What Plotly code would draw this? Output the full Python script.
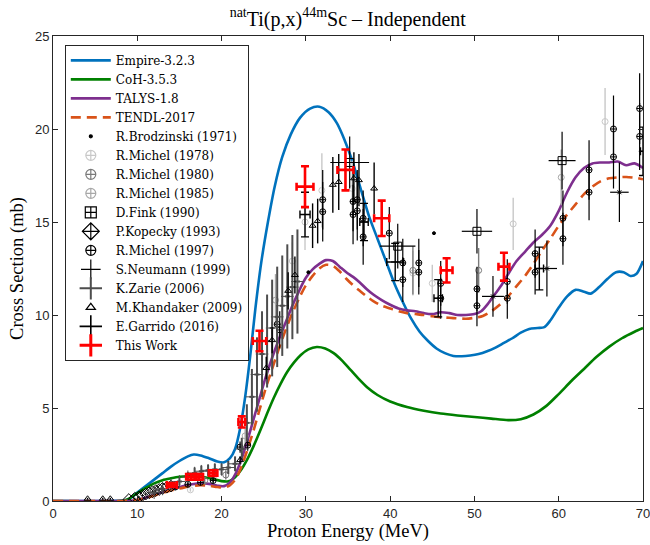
import plotly.graph_objects as go

# ---------------- model curves ----------------
empire_E = [0, 5, 8, 9, 10, 11, 12, 13, 14, 15, 16, 16.7, 17.5, 18.5, 19.5, 20.3, 21, 21.6, 22.2, 22.8, 23.4, 24, 24.7,
            25.5, 26.3, 27.2, 28.2, 29.3, 30.5, 31.6, 32.7, 33.7, 34.6, 35.5, 36.5, 37.5, 38.5, 39.5, 40.5, 41.5, 42.5,
            43.5, 44.5, 45.5, 46.5, 47.5, 48.5, 49.5, 50.5, 51.5, 52.5, 53.5, 54.5, 55.5, 56.5, 57.5, 58.3, 59, 60, 61,
            62, 63, 63.8, 64.8, 65.8, 66.8, 67.7, 68.5, 69.2, 70]
empire_xs = [0, 0, 0.02, 0.1, 0.45, 0.8, 1.15, 1.5, 1.85, 2.15, 2.4, 2.5, 2.45, 2.3, 2.12, 2.08, 2.3, 2.8, 3.9, 5.6, 7.8,
             10.3, 12.8, 15.0, 16.9, 18.5, 19.7, 20.6, 21.1, 21.2, 20.9, 20.3, 19.4, 18.3, 16.8, 15.3, 14.1, 12.9, 11.7,
             10.7, 9.8, 9.1, 8.6, 8.2, 7.95, 7.8, 7.78, 7.82, 7.9, 8.05, 8.25, 8.5, 8.75, 9.05, 9.25, 9.3, 9.35, 9.7,
             10.4, 11.0, 11.35, 11.25, 11.15, 11.5, 11.95, 12.3, 12.3, 12.1, 12.2, 12.9]

coh_E = [0, 8, 8.5, 9, 10, 11, 12, 13, 14, 15, 16, 17, 18, 19, 20, 20.7, 21.4, 22.2, 23, 23.8, 24.6, 25.4, 26.2, 27,
         27.8, 28.6, 29.4, 30.3, 31.3, 32.3, 33.3, 34.3, 35.3, 36.3, 37.3, 38.5, 40, 42, 44, 46, 48, 50, 52, 54, 55.5,
         57, 58.5, 60, 61.5, 63, 64.5, 66, 67.5, 69, 70]
coh_xs = [0, 0, 0.03, 0.12, 0.42, 0.7, 0.95, 1.12, 1.22, 1.3, 1.33, 1.32, 1.27, 1.18, 1.07, 1.05, 1.2, 1.6, 2.2, 2.95,
          3.8, 4.7, 5.55, 6.3, 6.95, 7.45, 7.85, 8.15, 8.28, 8.2, 7.95, 7.55, 7.05, 6.55, 6.1, 5.7, 5.35, 5.05, 4.85,
          4.7, 4.6, 4.52, 4.43, 4.35, 4.4, 4.65, 5.1, 5.75, 6.45, 7.1, 7.75, 8.3, 8.75, 9.1, 9.3]

talys_E = [0, 8, 9.5, 10.5, 11.5, 12.5, 13.5, 14.5, 15.5, 16.5, 17.5, 18.5, 19.5, 20.3, 21, 21.7, 22.4, 23.1, 23.8,
           24.5, 25.2, 26, 26.8, 27.6, 28.4, 29.2, 30, 30.8, 31.6, 32.4, 33.2, 34, 34.8, 35.6, 36.4, 37.2, 38, 39, 40,
           41, 42, 43, 44, 45, 46, 47, 48, 49, 50, 50.8, 51.6, 52.4, 53.2, 54, 55, 56, 57, 58, 59, 60, 61, 62, 63, 64,
           65, 66, 67, 68, 69, 70]
talys_xs = [0, 0, 0.02, 0.12, 0.25, 0.4, 0.55, 0.68, 0.8, 0.9, 0.95, 0.92, 0.82, 0.8, 1.0, 1.5, 2.3, 3.3, 4.4, 5.5, 6.6,
            7.7, 8.7, 9.6, 10.5, 11.3, 12.0, 12.45, 12.75, 12.95, 12.9, 12.6, 12.3, 12.05, 11.75, 11.4, 11.1, 10.8,
            10.55, 10.35, 10.25, 10.2, 10.1, 10.05, 10.15, 10.1, 10.0, 10.0, 10.05, 10.2, 10.6, 11.1, 11.6, 12.2, 12.9,
            13.4, 13.9, 14.3, 14.8, 15.6, 16.6, 17.4, 17.9, 18.15, 18.2, 18.2, 18.25, 18.05, 18.15, 17.9]

tendl_E = [0, 8, 9.5, 10.5, 11.5, 12.5, 13.5, 14.5, 15.5, 16.5, 17.5, 18.5, 19.5, 20.3, 21, 21.7, 22.4, 23.1, 23.8,
           24.5, 25.2, 26, 26.8, 27.6, 28.4, 29.2, 30, 30.8, 31.6, 32.4, 33.2, 34, 34.8, 35.6, 36.4, 37.2, 38, 39, 40,
           41, 42, 43, 44, 45, 46, 47, 48, 49, 50, 51, 52, 53, 54, 55, 56, 57, 58, 59, 60, 61, 62, 63, 64, 65, 66, 67,
           68, 69, 70]
tendl_xs = [0, 0, 0.02, 0.1, 0.22, 0.36, 0.5, 0.62, 0.72, 0.8, 0.85, 0.82, 0.75, 0.72, 0.85, 1.2, 1.9, 2.8, 3.8, 4.9,
            6.0, 7.1, 8.2, 9.2, 10.1, 10.9, 11.6, 12.1, 12.5, 12.7, 12.65, 12.35, 11.95, 11.6, 11.3, 11.0, 10.75, 10.5,
            10.35, 10.2, 10.1, 10.05, 10.0, 9.93, 9.88, 9.85, 9.82, 9.8, 9.85, 9.95, 10.2, 10.55, 11.0, 11.55, 12.1,
            12.75, 13.45, 14.1, 14.8, 15.4, 15.95, 16.5, 16.9, 17.2, 17.35, 17.4, 17.42, 17.38, 17.3]

# ---------------- experimental data ----------------
brod_E = [30.3, 45.2]
brod_xs = [12.3, 14.4]

mic78_E = [16.3, 28.4, 29.9, 31.9, 35.5, 42.7, 45.0, 54.6, 65.5]
mic78_xs = [0.6, 12.9, 15.0, 16.7, 16.8, 12.25, 11.7, 14.9, 20.4]
mic78_err = [0.1, 1.0, 1.5, 2.0, 1.5, 1.2, 1.0, 1.4, 1.8]

mic80_E = [18.0, 20.5, 42.7, 50.5]
mic80_xs = [1.1, 1.4, 12.4, 12.4]
mic80_err = [0.2, 0.25, 1.3, 1.2]

mic85_E = [22.8, 26.4, 60.3]
mic85_xs = [3.5, 10.8, 17.4]
mic85_err = [0.4, 1.4, 1.5]

fink_E = [35.2, 40.9, 50.3, 60.4]
fink_xs = [18.2, 13.7, 14.5, 18.3]
fink_dE = [2.3, 2.1, 1.8, 1.6]
fink_err = [1.4, 1.2, 1.2, 1.55]

kop_E = [9.0, 9.7, 10.2, 10.6, 11.0, 11.4, 11.8, 12.2, 12.6, 13.0, 13.5, 14.0]
kop_xs = [0.08, 0.15, 0.22, 0.3, 0.37, 0.44, 0.5, 0.56, 0.62, 0.68, 0.74, 0.8]
kop_err = [0.03, 0.03, 0.04, 0.04, 0.05, 0.05, 0.06, 0.06, 0.07, 0.07, 0.08, 0.08]

mic97_E = [14.5, 16.0, 17.5, 19.0, 22.2, 23.1, 26.6, 26.9, 32.0, 32.0, 35.6, 35.6, 36.1, 36.1, 36.8, 36.8, 39.9, 41.5,
           41.5, 43.4, 43.4, 46.0, 46.0, 50.3, 50.3, 53.9, 53.9, 57.2, 57.2, 60.5, 60.5, 63.6, 63.6, 66.5, 66.5, 69.6,
           69.6]
mic97_xs = [0.75, 0.9, 1.0, 1.1, 2.9, 3.0, 9.5, 9.2, 16.2, 15.55, 16.1, 15.4, 16.2, 15.6, 15.2, 14.2, 14.4, 12.8, 11.9,
            12.8, 12.3, 11.7, 10.9, 11.4, 10.5, 11.8, 10.9, 13.3, 12.3, 15.2, 14.1, 17.8, 16.6, 20.0, 18.5, 21.1, 19.6]
mic97_err = [0.1, 0.1, 0.1, 0.12, 0.3, 0.3, 1.0, 1.0, 1.6, 1.6, 1.6, 1.6, 1.6, 1.6, 1.5, 1.5, 1.4, 1.3, 1.2, 1.3, 1.2,
             1.2, 1.1, 1.2, 1.1, 1.2, 1.1, 1.3, 1.2, 1.5, 1.4, 1.6, 1.5, 1.8, 1.7, 1.9, 1.8]

neu_E = [52.2, 58.6, 67.2]
neu_xs = [11.0, 12.5, 16.6]
neu_dE = [1.3, 1.2, 1.1]
neu_err = [1.1, 1.5, 1.6]

zar_E = [12.0, 13.0, 14.0, 15.0, 16.0, 16.8, 17.6, 18.4, 19.2, 20.0, 20.8, 21.6, 22.4, 23.0, 23.6, 24.2, 24.8, 25.4,
         26.0, 26.6, 27.2, 27.8, 28.4, 29.0]
zar_xs = [0.45, 0.65, 0.85, 1.05, 1.3, 1.5, 1.6, 1.65, 1.7, 1.7, 1.8, 2.0, 2.8, 4.2, 5.6, 6.8, 7.9, 8.6, 9.3, 9.9,
          10.5, 11.0, 11.5, 11.8]
zar_err = [0.1, 0.15, 0.2, 0.2, 0.25, 0.3, 0.3, 0.3, 0.3, 0.3, 0.35, 0.4, 0.6, 1.0, 1.5, 2.0, 2.3, 2.5, 2.6, 2.7, 2.7,
           2.8, 2.8, 2.8]
zar_dE = [0.3] * len(zar_E)

kha_E = [4.1, 5.9, 6.8, 22.2, 25.3, 26.0, 27.9, 28.7, 30.8, 31.4, 33.2, 33.9, 35.7, 36.3, 38.1]
kha_xs = [0.12, 0.12, 0.12, 2.2, 7.15, 8.65, 11.3, 12.15, 14.8, 15.05, 17.0, 17.15, 17.35, 17.25, 16.8]
kha_err = [0.05, 0.05, 0.05, 0.2, 0.6, 0.7, 1.0, 1.0, 1.2, 1.2, 1.5, 1.5, 1.4, 1.4, 1.4]

gar_E = [29.9, 36.9, 40.6, 45.7, 57.7, 70.0]
gar_xs = [15.4, 15.0, 12.85, 10.9, 12.5, 18.8]
gar_dE = [0.6, 0.5, 1.0, 0.5, 0.5, 0.3]
gar_err = [1.2, 1.0, 1.0, 1.0, 1.15, 1.3]

tw_E = [14.1, 16.4, 17.3, 19.0, 22.4, 24.5, 29.9, 34.7, 39.0, 46.7, 53.5]
tw_xs = [0.86, 1.3, 1.3, 1.5, 4.25, 8.6, 16.9, 17.8, 15.2, 12.4, 12.6]
tw_dE = [0.6, 0.6, 0.5, 0.5, 0.4, 0.8, 1.0, 0.95, 0.9, 0.7, 0.65]
tw_err = [0.1, 0.15, 0.15, 0.15, 0.3, 0.55, 1.1, 1.1, 0.95, 0.65, 0.75]

SERIF = "'Liberation Serif', 'DejaVu Serif', serif"
LEGSERIF = "'DejaVu Serif', 'Liberation Serif', serif"
SANS = "'Liberation Sans', Arial, sans-serif"
AX = "#262626"

fig = go.Figure()

def curve(name, E, xs, color, dash=None):
    fig.add_trace(go.Scatter(x=E, y=xs, mode="lines", name=name,
                             line=dict(color=color, width=2.6, dash=dash, shape="spline", smoothing=0.8)))

curve("Empire-3.2.3", empire_E, empire_xs, "#0072BD")
curve("CoH-3.5.3", coh_E, coh_xs, "#008000")
curve("TALYS-1.8", talys_E, talys_xs, "#7E2F8E")
curve("TENDL-2017", tendl_E, tendl_xs, "#D95319", dash="10px,6px")


def data(name, E, xs, color, symbol, size, err=None, dE=None, cap=0, thick=1.2,
         leg_symbol=None, leg_size=12, leg_width=1.2, fill=None):
    ey = dict(type="data", array=err, color=color, thickness=thick, width=cap, visible=True) if err else None
    ex = dict(type="data", array=dE, color=color, thickness=thick, width=cap, visible=True) if dE else None
    mk = dict(symbol=symbol, size=size, color=fill if fill else color,
              line=dict(color=color, width=1))
    fig.add_trace(go.Scatter(x=E, y=xs, mode="markers", name=name, showlegend=False, legendgroup=name,
                             marker=mk, error_y=ey, error_x=ex))
    fig.add_trace(go.Scatter(x=[None], y=[None], mode="markers", name=name, legendgroup=name,
                             marker=dict(symbol=leg_symbol or symbol, size=leg_size, color=color,
                                         line=dict(color=color, width=leg_width))))


data("R.Brodzinski (1971)", brod_E, brod_xs, "black", "circle", 3, leg_symbol="circle", leg_size=3)
data("R.Michel (1978)", mic78_E, mic78_xs, "#c8c8c8", "circle-open", 6, err=mic78_err, thick=1.4,
     leg_symbol="circle-cross-open", leg_size=10)
data("R.Michel (1980)", mic80_E, mic80_xs, "#7a7a7a", "circle-open", 6, err=mic80_err, thick=1.4,
     leg_symbol="circle-cross-open", leg_size=10)
data("R.Michel (1985)", mic85_E, mic85_xs, "#a8a8a8", "circle-open", 6, err=mic85_err, thick=1.4,
     leg_symbol="circle-cross-open", leg_size=10)
data("D.Fink (1990)", fink_E, fink_xs, "black", "square-open", 8, err=fink_err, dE=fink_dE, thick=1.2,
     leg_symbol="square-cross-open", leg_size=11)
data("P.Kopecky (1993)", kop_E, kop_xs, "black", "diamond-open", 9, err=kop_err,
     leg_symbol="diamond-cross-open", leg_size=13)
data("R.Michel (1997)", mic97_E, mic97_xs, "black", "circle-cross-open", 6, err=mic97_err,
     leg_symbol="circle-cross-open", leg_size=10)
data("S.Neumann (1999)", neu_E, neu_xs, "black", "x-thin-open", 4, err=neu_err, dE=neu_dE,
     leg_symbol="cross-thin-open", leg_size=14)
data("K.Zarie (2006)", zar_E, zar_xs, "#4d4d4d", "cross-thin-open", 9, err=zar_err, dE=zar_dE, thick=2,
     leg_symbol="cross-thin-open", leg_size=16, leg_width=2)
data("M.Khandaker (2009)", kha_E, kha_xs, "black", "triangle-up-open", 6, err=kha_err, thick=1.4,
     leg_symbol="triangle-up-open", leg_size=8)
data("E.Garrido (2016)", gar_E, gar_xs, "black", "line-ew", 0, err=gar_err, dE=gar_dE, cap=4, thick=1.4,
     leg_symbol="cross-thin-open", leg_size=16, leg_width=1.6)
data("This Work", tw_E, tw_xs, "#ff0000", "line-ew", 0, err=tw_err, dE=tw_dE, cap=4, thick=2.6,
     leg_symbol="cross-thin-open", leg_size=16, leg_width=3)

axis_common = dict(showline=True, linecolor=AX, linewidth=1, mirror="ticks", ticks="inside", ticklen=5,
                   tickcolor=AX, showgrid=False, zeroline=False, ticklabeloverflow="allow", automargin=False,
                   tickfont=dict(family=SANS, size=13, color=AX))

fig.update_layout(
    width=650, height=545,
    margin=dict(l=53, r=7, t=36, b=44),
    paper_bgcolor="white", plot_bgcolor="white",
    title=dict(text="<sup>nat</sup>Ti(p,x)<sup>44m</sup>Sc – Independent",
               font=dict(family=SERIF, size=20, color="black"),
               x=0.535, xanchor="center", y=0.966, yanchor="middle"),
    xaxis=dict(range=[0, 70], dtick=10,
               title=dict(text="Proton Energy (MeV)", font=dict(family=SERIF, size=18.5, color="black"), standoff=3),
               **axis_common),
    yaxis=dict(range=[0, 25], dtick=5,
               title=dict(text="Cross Section (mb)", font=dict(family=SERIF, size=18.5, color="black"), standoff=6),
               **axis_common),
    legend=dict(x=0.02, y=0.981, xanchor="left", yanchor="top", bgcolor="white", bordercolor=AX,
                borderwidth=1, font=dict(family=LEGSERIF, size=12, color="black"),
                itemwidth=40, tracegroupgap=0),
    showlegend=True,
    hovermode=False,
)

fig.write_html("out.html")
